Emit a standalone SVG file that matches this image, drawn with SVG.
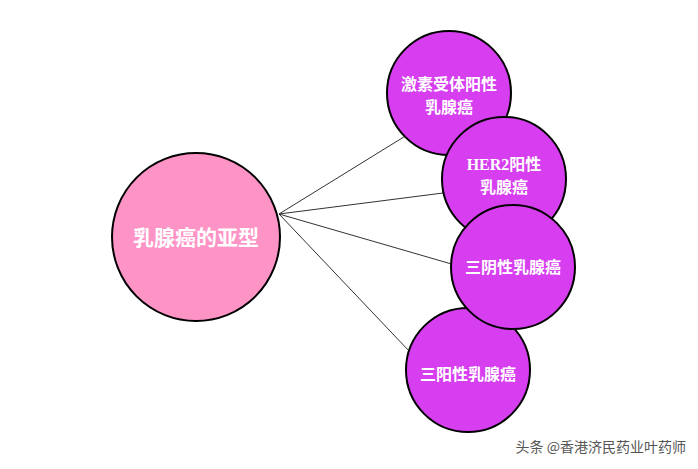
<svg xmlns="http://www.w3.org/2000/svg" width="698" height="469" viewBox="0 0 698 469">
<style>
.c{fill:#d63ef0;stroke:#000;stroke-width:2}
.t{fill:#fff;font-family:"Liberation Serif","Noto Sans CJK SC",serif;font-weight:bold;font-size:16px;text-anchor:middle}
.l{stroke:#333;stroke-width:1;fill:none}
</style>
<rect width="698" height="469" fill="#fff"/>
<g id="connectors">
<line class="l" x1="279" y1="214" x2="407" y2="135"/>
<line class="l" x1="279" y1="214" x2="443" y2="193"/>
<line class="l" x1="279" y1="214" x2="455" y2="265"/>
<line class="l" x1="279" y1="214" x2="410" y2="352"/>
</g>
<g id="main"><circle cx="196" cy="237" r="84" fill="#fe93c6" stroke="#000" stroke-width="2"/>
<text class="t" x="196" y="245" style="font-size:21px">乳腺癌的亚型</text></g>
<g id="n1"><circle class="c" cx="449" cy="93" r="62"/><text class="t" x="449" y="90">激素受体阳性</text><text class="t" x="449" y="113">乳腺癌</text></g>
<g id="n2"><circle class="c" cx="504" cy="179" r="62"/><text class="t" x="504" y="170">HER2阳性</text><text class="t" x="504" y="193">乳腺癌</text></g>
<g id="n4"><circle class="c" cx="468" cy="370" r="62"/><text class="t" x="468" y="380">三阳性乳腺癌</text></g>
<g id="n3"><circle class="c" cx="513" cy="267" r="62"/><text class="t" x="513" y="273">三阴性乳腺癌</text></g>
<text x="686" y="452" font-family="Noto Sans CJK SC,sans-serif" font-size="14" fill="#555" text-anchor="end">头条 @香港济民药业叶药师</text>
</svg>
